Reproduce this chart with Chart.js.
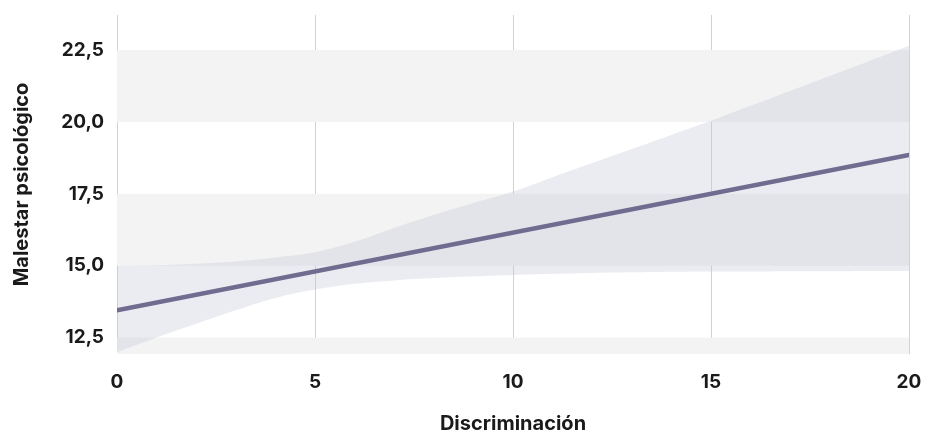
<!DOCTYPE html>
<html>
<head>
<meta charset="utf-8">
<script src="https://cdn.jsdelivr.net/npm/chart.js@4.4.0/dist/chart.umd.min.js"></script>
<style>
  html, body { margin: 0; padding: 0; background: #ffffff; }
  #wrap { width: 925px; height: 432px; position: relative; }
</style>
</head>
<body>
<div id="wrap"><canvas id="chart"></canvas></div>
<script>
const xValues = [0, 1, 2, 3, 4, 5, 6, 7, 8, 9, 10, 11, 12, 13, 14, 15, 16, 17, 18, 19, 20];
const ciUpper = [15.0, 15.02, 15.07, 15.15, 15.29, 15.47, 15.83, 16.31, 16.76, 17.18, 17.58, 18.08, 18.57, 19.06, 19.55, 20.04, 20.56, 21.08, 21.6, 22.12, 22.65];
const ciLower = [11.99, 12.5, 12.98, 13.45, 13.88, 14.17, 14.37, 14.49, 14.57, 14.63, 14.68, 14.72, 14.75, 14.77, 14.79, 14.8, 14.8, 14.81, 14.81, 14.82, 14.82];
// regression line endpoints
const fitX = [0, 20];
const fitY = [13.45, 18.85];

const xTicks = [0, 5, 10, 15, 20];
const yTicks = [12.5, 15, 17.5, 20, 22.5];

const xTitle = 'Discriminación';
const yTitle = 'Malestar psicológico';

const toPoints = (xs, ys) => xs.map((x, i) => ({ x: x, y: ys[i] }));

// grey bands every other 2.5 step
const bandsPlugin = {
  id: 'bands',
  beforeDatasetsDraw(chart) {
    const { ctx, chartArea, scales } = chart;
    const y = scales.y;
    ctx.save();
    ctx.beginPath();
    ctx.rect(chartArea.left, chartArea.top, chartArea.right - chartArea.left, chartArea.bottom - chartArea.top);
    ctx.clip();
    ctx.fillStyle = '#f3f3f3';
    for (let v = 10; v < 25; v += 5) {
      const top = y.getPixelForValue(v + 2.5);
      const bot = y.getPixelForValue(v);
      ctx.fillRect(chartArea.left, top, chartArea.right - chartArea.left, bot - top);
    }
    ctx.restore();
  }
};

const tickFont = { family: 'Inter, "DejaVu Sans", sans-serif', size: 19, weight: 'bold' };
const titleFont = { family: 'Inter, "DejaVu Sans", sans-serif', size: 20, weight: 'bold' };

new Chart(document.getElementById('chart'), {
  type: 'line',
  data: {
    datasets: [
      {
        label: 'upper',
        data: toPoints(xValues, ciUpper),
        borderWidth: 0,
        pointRadius: 0,
        backgroundColor: 'rgba(190,198,215,0.33)',
        fill: '+1',
        tension: 0.4,
        order: 2
      },
      {
        label: 'lower',
        data: toPoints(xValues, ciLower),
        borderWidth: 0,
        pointRadius: 0,
        fill: false,
        tension: 0.4,
        order: 2
      },
      {
        label: 'fit',
        data: toPoints(fitX, fitY),
        borderColor: '#716b90',
        borderWidth: 4.5,
        borderCapStyle: 'round',
        pointRadius: 0,
        fill: false,
        order: 1
      }
    ]
  },
  options: {
    responsive: true,
    maintainAspectRatio: false,
    animation: false,
    layout: { padding: { top: 15, right: 16, left: 0, bottom: 0 } },
    plugins: { legend: { display: false }, tooltip: { enabled: false } },
    scales: {
      x: {
        type: 'linear',
        min: 0,
        max: 20,
        afterBuildTicks: (s) => { s.ticks = xTicks.map(v => ({ value: v })); },
        ticks: { font: tickFont, color: '#1a1a1a', padding: 17, maxRotation: 0 },
        grid: { color: '#d2d2d2', lineWidth: 1, drawTicks: false },
        border: { display: false },
        title: { display: true, text: xTitle, font: titleFont, color: '#1a1a1a', padding: { top: 0, bottom: -4 } },
        afterFit: (s) => { s.height = 78; s.paddingLeft = 0; s.paddingRight = 0; }
      },
      y: {
        type: 'linear',
        min: 11.93,
        max: 23.72,
        afterBuildTicks: (s) => { s.ticks = yTicks.map(v => ({ value: v })); },
        ticks: {
          font: tickFont,
          color: '#1a1a1a',
          padding: 13,
          callback: (v) => v.toFixed(1).replace('.', ',')
        },
        grid: { display: false, drawTicks: false },
        border: { display: false },
        title: { display: true, text: yTitle, font: titleFont, color: '#1a1a1a', padding: { top: 10, bottom: 0 } },
        afterFit: (s) => { s.width = 117; s.paddingTop = 0; s.paddingBottom = 0; }
      }
    }
  },
  plugins: [bandsPlugin]
});
</script>
</body>
</html>
